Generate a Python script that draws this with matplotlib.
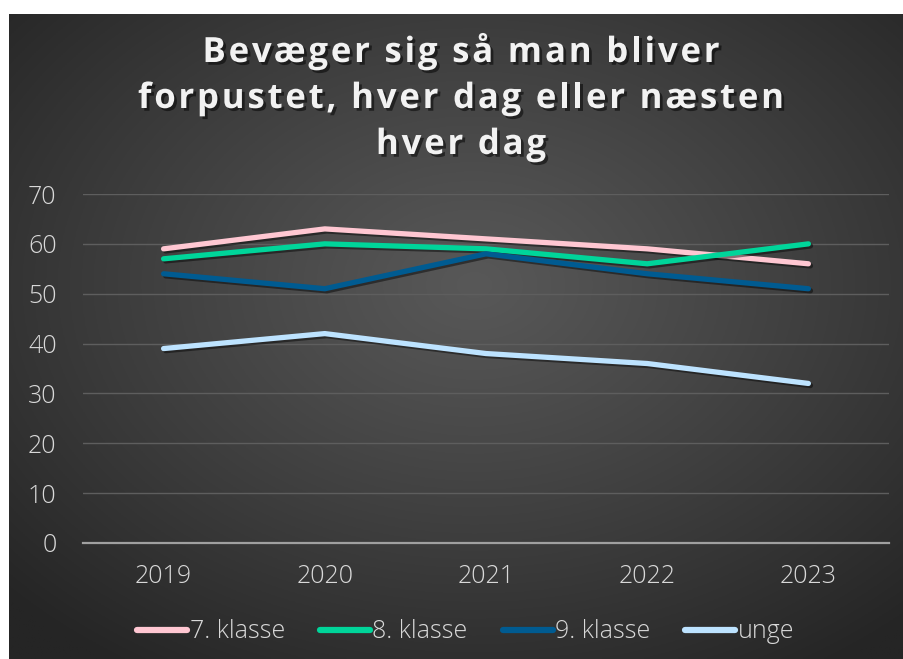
import numpy as np
import matplotlib.pyplot as plt
import matplotlib.patheffects as pe

years = ['2019', '2020', '2021', '2022', '2023']
klasse7 = [59, 63, 61, 59, 56]
klasse8 = [57, 60, 59, 56, 60]
klasse9 = [54, 51, 58, 54, 51]
unge = [39, 42, 38, 36, 32]

series_names = ['7. klasse', '8. klasse', '9. klasse', 'unge']
series_values = [klasse7, klasse8, klasse9, unge]
series_colors = ['#ffc7d2', '#00d59a', '#005b91', '#bde3ff']

title_lines = ['Bevæger sig så man bliver',
               'forpustet, hver dag eller næsten',
               'hver dag']

W, H = 904, 659
fig = plt.figure(figsize=(W / 100, H / 100), dpi=100, facecolor='white')

# dark radial gradient behind everything
bg = fig.add_axes([9 / W, 0, (W - 9) / W, (H - 14) / H])
bg.set_axis_off()
gx, gy = np.meshgrid(np.linspace(0, 1, 400), np.linspace(0, 1, 300))
dist = np.sqrt(((gx - 0.52) / 0.75) ** 2 + ((gy - 0.42) / 0.75) ** 2)
dist = np.clip(dist / 0.95, 0, 1)
center, edge = 0x58 / 255, 0x25 / 255
shade = center + (edge - center) * dist ** 1.1
bg.imshow(np.dstack([shade, shade, shade]), aspect='auto',
          extent=[0, 1, 0, 1], origin='upper')

ax = fig.add_axes([83 / W, 1 - 543 / H, (889 - 83) / W, (543 - 194) / H])
ax.patch.set_alpha(0)

x = np.arange(len(years))
shadow = [pe.SimpleLineShadow(offset=(1.5, -1.5), shadow_color='black', alpha=0.45),
          pe.Normal()]
for name, vals, col in zip(series_names, series_values, series_colors):
    ax.plot(x, vals, color=col, lw=3.8, solid_capstyle='round',
            solid_joinstyle='round', label=name, path_effects=shadow, zorder=3)

label_font = {'family': 'Open Sans', 'weight': 'light', 'size': 18}

ax.set_xlim(-0.5, len(years) - 0.5)
ax.set_ylim(0, 70)
ax.set_yticks(range(0, 71, 10))
ax.set_xticks(x)
ax.set_xticklabels(years)
ax.grid(axis='y', color='#5e5e5e', lw=1)
ax.set_axisbelow(True)
for s in ['top', 'right', 'left']:
    ax.spines[s].set_visible(False)
ax.spines['bottom'].set_color('#a0a0a0')
ax.spines['bottom'].set_linewidth(1.6)
ax.tick_params(axis='both', length=0, labelcolor='#d9d9d9')
ax.tick_params(axis='y', pad=19)
ax.tick_params(axis='x', pad=15)
for lab in ax.get_xticklabels() + ax.get_yticklabels():
    lab.set_fontproperties(label_font)

leg = ax.legend(loc='center', bbox_to_anchor=(0.475, 1 - (632 - 194) / (543 - 194)),
                ncol=4, frameon=False, handlelength=2.0, handletextpad=0.1,
                columnspacing=1.4, prop=label_font)
for t in leg.get_texts():
    t.set_color('#d9d9d9')
for h in leg.get_lines():
    h.set_path_effects([])
    h.set_linewidth(4.5)
    h.set_solid_capstyle('round')

# title with extra letter spacing, placed character by character
renderer = fig.canvas.get_renderer()
title_kw = dict(fontsize=25, fontweight='bold', family='Open Sans', color='#f2f2f2',
                path_effects=[pe.withSimplePatchShadow(offset=(2, -2),
                                                       shadow_rgbFace='black', alpha=0.5)])
tracking = 2.8


def text_width(s):
    t = fig.text(0, 0, s, **title_kw)
    w = t.get_window_extent(renderer).width
    t.remove()
    return w


ref_w = text_width('I')
for i, line in enumerate(title_lines):
    total = text_width(line) + tracking * (len(line) - 1)
    x0 = 461 - total / 2
    y = 1 - (53 + 46 * i) / H
    for k, ch in enumerate(line):
        if ch == ' ':
            continue
        offset = text_width(line[:k] + 'I') - ref_w if k else 0
        fig.text((x0 + offset + tracking * k) / W, y, ch, ha='left', va='center',
                 **title_kw)

fig.savefig('out.png', dpi=100, facecolor='white')
